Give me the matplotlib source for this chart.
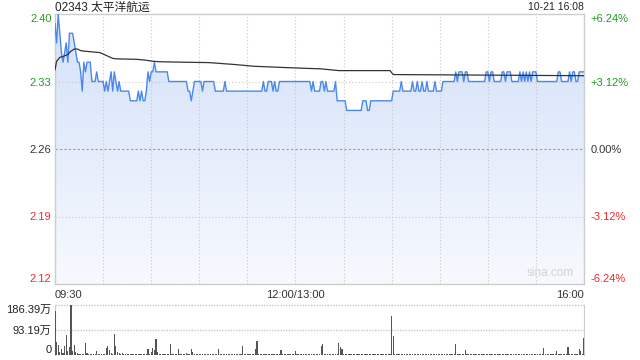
import numpy as np
import matplotlib
import matplotlib.pyplot as plt
from matplotlib.colors import LinearSegmentedColormap

matplotlib.use('Agg')
plt.rcParams['font.family'] = ['Liberation Sans', 'Noto Sans CJK SC', 'DejaVu Sans']

# minute-by-minute data, index 0 = 09:30, 150 = 12:00/13:00, 330 = 16:00
prices = [
    2.39, 2.37, 2.40, 2.38, 2.36, 2.35, 2.36, 2.37, 2.35, 2.38, 2.38, 2.38, 2.37, 2.36, 2.35, 2.35, 2.34, 2.32, 2.35, 2.34, 2.35, 2.35, 2.35, 2.33, 2.33, 2.33, 2.34, 2.33, 2.33, 2.33,
    2.33, 2.32, 2.33, 2.32, 2.33, 2.34, 2.32, 2.34, 2.33, 2.32, 2.33, 2.32, 2.32, 2.32, 2.32, 2.32, 2.32, 2.31, 2.31, 2.31, 2.31, 2.31, 2.32, 2.31, 2.32, 2.31, 2.31, 2.32, 2.34, 2.33,
    2.34, 2.34, 2.35, 2.34, 2.34, 2.34, 2.34, 2.34, 2.34, 2.34, 2.34, 2.33, 2.33, 2.33, 2.33, 2.33, 2.33, 2.33, 2.33, 2.33, 2.33, 2.33, 2.33, 2.32, 2.32, 2.31, 2.32, 2.33, 2.33, 2.33,
    2.33, 2.33, 2.32, 2.33, 2.33, 2.33, 2.33, 2.33, 2.33, 2.33, 2.32, 2.32, 2.32, 2.32, 2.32, 2.32, 2.33, 2.32, 2.32, 2.32, 2.32, 2.32, 2.32, 2.32, 2.32, 2.32, 2.32, 2.32, 2.32, 2.32,
    2.32, 2.32, 2.32, 2.32, 2.32, 2.32, 2.32, 2.32, 2.32, 2.32, 2.33, 2.32, 2.32, 2.33, 2.33, 2.33, 2.32, 2.33, 2.32, 2.32, 2.33, 2.33, 2.33, 2.33, 2.33, 2.33, 2.33, 2.33, 2.33, 2.33,
    2.33, 2.33, 2.33, 2.33, 2.33, 2.33, 2.33, 2.33, 2.33, 2.33, 2.32, 2.33, 2.32, 2.32, 2.32, 2.32, 2.33, 2.33, 2.32, 2.33, 2.32, 2.32, 2.32, 2.32, 2.32, 2.33, 2.31, 2.31, 2.31, 2.31,
    2.31, 2.31, 2.30, 2.30, 2.30, 2.30, 2.30, 2.30, 2.30, 2.30, 2.30, 2.30, 2.31, 2.31, 2.31, 2.30, 2.30, 2.31, 2.31, 2.31, 2.31, 2.31, 2.31, 2.31, 2.31, 2.31, 2.31, 2.31, 2.31, 2.31,
    2.31, 2.32, 2.32, 2.32, 2.32, 2.32, 2.33, 2.32, 2.32, 2.32, 2.32, 2.32, 2.32, 2.33, 2.32, 2.32, 2.33, 2.32, 2.32, 2.33, 2.32, 2.32, 2.33, 2.32, 2.32, 2.32, 2.32, 2.33, 2.32, 2.32,
    2.32, 2.32, 2.33, 2.33, 2.33, 2.33, 2.33, 2.33, 2.33, 2.33, 2.34, 2.33, 2.34, 2.34, 2.34, 2.33, 2.34, 2.34, 2.33, 2.33, 2.33, 2.33, 2.33, 2.33, 2.33, 2.33, 2.33, 2.33, 2.33, 2.34,
    2.34, 2.33, 2.34, 2.34, 2.33, 2.33, 2.33, 2.33, 2.33, 2.34, 2.34, 2.33, 2.34, 2.34, 2.34, 2.33, 2.33, 2.33, 2.33, 2.33, 2.34, 2.33, 2.34, 2.33, 2.34, 2.33, 2.34, 2.33, 2.34, 2.34,
    2.34, 2.33, 2.33, 2.33, 2.33, 2.33, 2.33, 2.33, 2.33, 2.33, 2.33, 2.33, 2.33, 2.33, 2.34, 2.34, 2.33, 2.33, 2.33, 2.33, 2.33, 2.34, 2.33, 2.34, 2.34, 2.33, 2.33, 2.34, 2.34, 2.34,
    2.34,
]

# volume in 万 shares
volumes = [
    165, 49, 36, 12, 21, 8, 34, 74, 15, 28, 186.39, 15, 36, 12, 6, 5, 4, 5, 3, 45, 8, 4, 3, 4, 3, 5, 15, 4, 3, 5,
    3, 4, 27, 34, 18, 6, 4, 78, 34, 10, 6, 4, 7, 3, 4, 3, 2, 4, 3, 2, 3, 4, 2, 3, 2, 3, 2, 3, 24, 5,
    12, 27, 18, 61, 12, 4, 3, 2, 3, 4, 2, 3, 40, 3, 2, 4, 3, 24, 3, 2, 4, 3, 9, 3, 2, 21, 12, 3, 2, 3,
    2, 3, 4, 2, 3, 2, 3, 4, 2, 3, 2, 3, 24, 3, 2, 4, 3, 2, 3, 2, 3, 4, 2, 3, 2, 3, 2, 34, 3, 2,
    3, 2, 4, 3, 2, 24, 52, 3, 2, 3, 2, 4, 3, 2, 3, 2, 3, 2, 4, 3, 2, 19, 3, 2, 3, 2, 3, 4, 2, 3,
    15, 3, 2, 3, 2, 4, 3, 2, 3, 2, 3, 2, 4, 3, 2, 3, 34, 42, 3, 2, 3, 4, 2, 3, 2, 3, 2, 46, 31, 24,
    3, 2, 3, 2, 4, 3, 2, 3, 2, 3, 4, 2, 3, 2, 3, 2, 4, 3, 2, 3, 2, 3, 2, 4, 3, 2, 3, 2, 3, 4,
    146, 69, 3, 2, 3, 2, 3, 4, 2, 3, 2, 3, 2, 3, 4, 2, 3, 2, 3, 2, 4, 3, 2, 3, 2, 3, 2, 3, 4, 2,
    3, 2, 3, 2, 3, 4, 2, 3, 2, 3, 40, 3, 2, 3, 4, 2, 19, 3, 2, 3, 2, 3, 4, 2, 3, 2, 3, 2, 3, 4,
    2, 3, 2, 3, 4, 2, 3, 2, 3, 2, 3, 4, 2, 3, 2, 3, 2, 4, 3, 2, 3, 2, 3, 4, 2, 3, 2, 3, 2, 3,
    4, 2, 3, 2, 3, 25, 3, 2, 4, 3, 2, 3, 2, 15, 3, 2, 3, 4, 2, 3, 31, 3, 2, 4, 3, 2, 3, 24, 15, 5,
    65,
]

# average price line, read at its turning points
avg_minutes = [0, 1, 3, 5, 8, 10, 12, 14, 16, 18, 24, 28, 32, 36, 38, 51, 57, 61, 65, 80,
               96, 113, 124, 149, 166, 177, 209, 211, 330]
avg_prices = [2.342, 2.351, 2.355, 2.356, 2.358, 2.3615, 2.3637, 2.3637, 2.362, 2.3615, 2.3606,
              2.360, 2.357, 2.354, 2.3535, 2.353, 2.352, 2.351, 2.3505, 2.350, 2.3496, 2.3475,
              2.3458, 2.3441, 2.3431, 2.3413, 2.3413, 2.3372, 2.336]

prev_close = 2.26
price_ticks = [2.12, 2.19, 2.26, 2.33, 2.40]
pct_labels = ['-6.24%', '-3.12%', '0.00%', '+3.12%', '+6.24%']
vol_ticks = [0, 93.19, 186.39]
vol_labels = ['0', '93.19万', '186.39万']
time_ticks = [0, 150, 330]
time_labels = ['09:30', '12:00/13:00', '16:00']

GREEN = '#1e9e1e'
RED = '#ee2a2a'
GRID = '#c8c8c8'
LINE = '#4a88ee'

W, H = 640, 360
fig = plt.figure(figsize=(W / 100, H / 100), dpi=100)


def px_axes(left, top, right, bottom):
    return fig.add_axes([left / W, 1 - bottom / H, (right - left) / W, (bottom - top) / H])


minutes = np.arange(len(prices))

# ---- price panel
ax = px_axes(55, 14, 584, 284)
ax.set_xlim(0, 330)
ax.set_ylim(price_ticks[0], price_ticks[-1])

fill = ax.fill_between(minutes, prices, price_ticks[0], color='none', linewidth=0)
cmap = LinearSegmentedColormap.from_list('fade', ['#f7f9fe', '#d3e1f9'])
grad = ax.imshow(np.linspace(0, 1, 256).reshape(-1, 1), extent=[0, 330, price_ticks[0], price_ticks[-1]],
                 origin='lower', aspect='auto', cmap=cmap, zorder=1)
grad.set_clip_path(fill.get_paths()[0], transform=ax.transData)

for m in range(30, 330, 30):
    ax.axvline(m, color=GRID, lw=0.8, ls=(0, (1, 2)), zorder=2)
for p in price_ticks[1:-1]:
    ax.axhline(p, color='#999999' if p == prev_close else GRID, lw=0.8,
               ls=(0, (2, 2)) if p == prev_close else (0, (1, 2)), zorder=2)

ax.plot(minutes, prices, color=LINE, lw=1.0, zorder=3)
ax.plot(avg_minutes, avg_prices, color='#333333', lw=0.9, zorder=4)

for s in ax.spines.values():
    s.set_color('#cccccc')
    s.set_linewidth(1)

ax.set_yticks(price_ticks)
ax.set_yticklabels([f'{p:.2f}' for p in price_ticks])
ax.tick_params(axis='y', length=0, pad=2.5, labelsize=8)
for lab, p in zip(ax.get_yticklabels(), price_ticks):
    lab.set_color(RED if p < prev_close else GREEN if p > prev_close else '#333333')
ax.get_yticklabels()[0].set_va('bottom')
ax.get_yticklabels()[-1].set_va('top')

ax.set_xticks(time_ticks)
ax.set_xticklabels(time_labels)
ax.tick_params(axis='x', length=0, pad=4, labelsize=8, labelcolor='#333333')
xl = ax.get_xticklabels()
xl[0].set_ha('left')
xl[-1].set_ha('right')

ax_r = ax.twinx()
ax_r.set_ylim(price_ticks[0], price_ticks[-1])
ax_r.set_yticks(price_ticks)
ax_r.set_yticklabels(pct_labels)
ax_r.tick_params(axis='y', length=0, pad=4.5, labelsize=8)
for lab, p in zip(ax_r.get_yticklabels(), price_ticks):
    lab.set_color(RED if p < prev_close else GREEN if p > prev_close else '#333333')
ax_r.get_yticklabels()[0].set_va('bottom')
ax_r.get_yticklabels()[-1].set_va('top')
for s in ax_r.spines.values():
    s.set_visible(False)

ax.text(0.936, 0.02, 'sina.com', transform=ax.transAxes, ha='center', va='bottom',
        fontsize=8.5, color='#d2d2d2', zorder=5)

fig.text(55 / W, 1 - 7.5 / H, '02343 太平洋航运', ha='left', va='center', fontsize=8.5, color='#222222')
fig.text(584 / W, 1 - 7.5 / H, '10-21 16:08', ha='right', va='center', fontsize=7.5, color='#222222')

# ---- volume panel
axv = px_axes(55, 305, 584, 355)
axv.set_xlim(0, 330)
axv.set_ylim(0, vol_ticks[-1])
axv.bar(minutes, volumes, width=0.7, color='#555555', linewidth=0, zorder=3)
for v in vol_ticks[1:]:
    axv.axhline(v, color=GRID, lw=1.0, ls=(0, (1, 1)), zorder=1, clip_on=False)
axv.spines['top'].set_visible(False)
axv.spines['bottom'].set_visible(False)
for side in ('left', 'right'):
    axv.spines[side].set_color('#cccccc')
axv.set_xticks([])
axv.set_yticks(vol_ticks)
axv.set_yticklabels(vol_labels)
axv.tick_params(axis='y', length=0, pad=2.5, labelsize=8, labelcolor='#222222')
yl = axv.get_yticklabels()
yl[0].set_va('bottom')
yl[-1].set_va('top')

fig.savefig('out.png', dpi=100)
